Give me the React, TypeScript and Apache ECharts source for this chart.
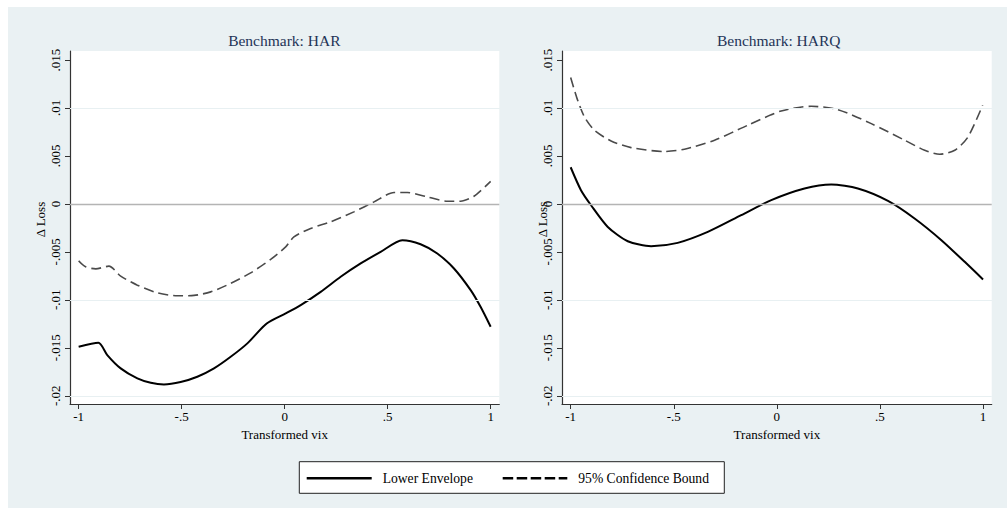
import React, { useEffect, useRef } from "react";
import * as echarts from "echarts";

// ---- Data ----
const xTicks = [-1, -0.5, 0, 0.5, 1];
const yTicks = [-0.02, -0.015, -0.01, -0.005, 0, 0.005, 0.01, 0.015];
const panelTitles = ["Benchmark: HAR", "Benchmark: HARQ"];
const seriesNames = ["Lower Envelope", "95% Confidence Bound"];

const harLowerX = [-1, -0.904, -0.861, -0.796, -0.715, -0.65, -0.586, -0.505, -0.424, -0.343, -0.262, -0.181, -0.087, 0.005, 0.078, 0.175, 0.272, 0.369, 0.466, 0.571, 0.66, 0.741, 0.822, 0.903, 0.951, 1];
const harLowerY = [-0.0149, -0.01448, -0.01576, -0.01715, -0.01819, -0.01865, -0.01882, -0.01857, -0.01802, -0.01715, -0.01594, -0.01454, -0.01246, -0.01142, -0.01055, -0.00917, -0.0076, -0.00621, -0.005, -0.00378, -0.0042, -0.00517, -0.00673, -0.00899, -0.01073, -0.01281];

const harBoundX = [-1, -0.966, -0.917, -0.853, -0.796, -0.715, -0.618, -0.521, -0.44, -0.359, -0.262, -0.165, -0.068, 0.005, 0.045, 0.126, 0.223, 0.336, 0.434, 0.531, 0.596, 0.693, 0.79, 0.854, 0.919, 1];
const harBoundY = [-0.00594, -0.00656, -0.00677, -0.00649, -0.00753, -0.00847, -0.00927, -0.00958, -0.00954, -0.00917, -0.00829, -0.00719, -0.00579, -0.00448, -0.00344, -0.00256, -0.00187, -0.00083, 0.00021, 0.00119, 0.00119, 0.00073, 0.00028, 0.00028, 0.0008, 0.00235];

const harqLowerX = [-1, -0.95, -0.901, -0.82, -0.723, -0.61, -0.481, -0.335, -0.173, -0.027, 0.134, 0.264, 0.393, 0.539, 0.668, 0.798, 0.911, 1];
const harqLowerY = [0.00382, 0.00143, -0.00014, -0.0024, -0.00389, -0.00441, -0.00406, -0.00292, -0.00118, 0.00039, 0.0016, 0.00202, 0.0016, 0.00031, -0.00152, -0.00378, -0.00604, -0.00788];

const harqBoundX = [-1, -0.966, -0.933, -0.885, -0.804, -0.707, -0.545, -0.448, -0.302, -0.141, 0.021, 0.167, 0.296, 0.458, 0.62, 0.717, 0.79, 0.863, 0.927, 0.998];
const harqBoundY = [0.01317, 0.0108, 0.00906, 0.00768, 0.00656, 0.00587, 0.00546, 0.0057, 0.00664, 0.0082, 0.00969, 0.01018, 0.00983, 0.00837, 0.00664, 0.00559, 0.00518, 0.00559, 0.00698, 0.01028];

const SERIF = "Liberation Serif, Times New Roman, serif";
const BG = "#eaf1f3";

const zip = (xs: number[], ys: number[]) => xs.map((x, i) => [x, ys[i]]);
const fmt = (v: number) => {
  if (Math.abs(v) < 1e-12) return "0";
  const s = String(+v.toFixed(4));
  return s.replace(/^(-?)0\./, "$1.");
};

export default function App() {
  const ref = useRef<HTMLDivElement>(null);

  useEffect(() => {
    if (!ref.current) return;
    const chart = echarts.init(ref.current, undefined, { renderer: "svg" });

    const grids = [
      { left: 62, top: 44, width: 429.3, height: 353 },
      { left: 554, top: 44, width: 429.7, height: 353 },
    ];

    const xAxes = grids.map((_, i) => ({
      type: "value",
      gridIndex: i,
      min: -1.042,
      max: 1.042,
      name: "Transformed vix",
      nameLocation: "middle",
      nameGap: 21,
      nameTextStyle: { fontFamily: SERIF, fontSize: 13, color: "#000" },
      axisLine: { show: true, onZero: false, lineStyle: { color: "#333", width: 1.2 } },
      axisTick: { show: true, length: 5, customValues: xTicks, lineStyle: { color: "#333" } },
      axisLabel: { customValues: xTicks, formatter: (v: number) => fmt(v), fontFamily: SERIF, fontSize: 13, color: "#000", margin: 6 },
      splitLine: { show: false },
    }));

    const yAxes = grids.map((_, i) => ({
      type: "value",
      gridIndex: i,
      min: -0.02086,
      max: 0.01594,
      axisLine: { show: true, onZero: false, lineStyle: { color: "#333", width: 1.2 } },
      axisTick: { show: true, length: 5, customValues: yTicks, lineStyle: { color: "#333" } },
      axisLabel: { customValues: yTicks, rotate: 90, formatter: (v: number) => fmt(v), fontFamily: SERIF, fontSize: 13, color: "#000", margin: 8 },
      splitLine: { show: false },
    }));

    const gridLines = yTicks.map((v) => ({
      yAxis: v,
      lineStyle: v === 0 ? { color: "#b4b4b4", width: 1.3, type: "solid" } : { color: "#e8f0f2", width: 1.2, type: "solid" },
    }));

    const mkLower = (i: number, data: number[][]) => ({
      name: seriesNames[0],
      type: "line",
      xAxisIndex: i,
      yAxisIndex: i,
      data,
      smooth: 0.25,
      symbol: "none",
      lineStyle: { color: "#000", width: 2 },
      z: 3,
    });
    const mkBound = (i: number, data: number[][]) => ({
      name: seriesNames[1],
      type: "line",
      xAxisIndex: i,
      yAxisIndex: i,
      data,
      smooth: 0.25,
      symbol: "none",
      lineStyle: { color: "#4a4a4a", width: 1.6, type: [10, 5] },
      z: 3,
      markLine: {
        silent: true,
        symbol: "none",
        label: { show: false },
        animation: false,
        data: gridLines,
      },
    });

    const txt = (size: number, fill: string, align: string) => ({
      fontFamily: SERIF,
      fontSize: size,
      fill,
      textAlign: align,
      textVerticalAlign: "middle",
    });

    const legendY = 471.3;
    chart.setOption({
      animation: false,
      backgroundColor: BG,
      grid: grids.map((g) => ({ ...g, show: true, backgroundColor: "#fff", borderWidth: 0, containLabel: false })),
      xAxis: xAxes,
      yAxis: yAxes,
      series: [
        mkBound(0, zip(harBoundX, harBoundY)),
        mkLower(0, zip(harLowerX, harLowerY)),
        mkBound(1, zip(harqBoundX, harqBoundY)),
        mkLower(1, zip(harqLowerX, harqLowerY)),
      ],
      graphic: [
        { type: "text", x: 276.3, y: 33, style: { text: panelTitles[0], ...txt(15.5, "#243457", "center") } },
        { type: "text", x: 770.7, y: 33, style: { text: panelTitles[1], ...txt(15.5, "#243457", "center") } },
        { type: "text", x: 32.5, y: 212.5, rotation: Math.PI / 2, style: { text: "Δ Loss", ...txt(13, "#000", "center") } },
        { type: "text", x: 534.2, y: 212.5, rotation: Math.PI / 2, style: { text: "Δ Loss", ...txt(13, "#000", "center") } },
        { type: "rect", shape: { x: 291.3, y: 454.7, width: 425, height: 31.6 }, style: { fill: "#fff", stroke: "#222", lineWidth: 1 } },
        { type: "line", shape: { x1: 298.7, y1: legendY, x2: 363.7, y2: legendY }, style: { stroke: "#000", lineWidth: 2.5 } },
        { type: "text", x: 374.7, y: legendY, style: { text: seriesNames[0], ...txt(13.6, "#000", "left") } },
        { type: "line", shape: { x1: 494.7, y1: legendY, x2: 559.3, y2: legendY }, style: { stroke: "#000", lineWidth: 2.5, lineDash: [10.5, 3.5] } },
        { type: "text", x: 570.3, y: legendY, style: { text: seriesNames[1], ...txt(13.6, "#000", "left") } },
      ],
    });

    return () => chart.dispose();
  }, []);

  return (
    <div
      ref={ref}
      style={{ position: "fixed", left: 8, top: 7, width: 999, height: 501 }}
    />
  );
}
